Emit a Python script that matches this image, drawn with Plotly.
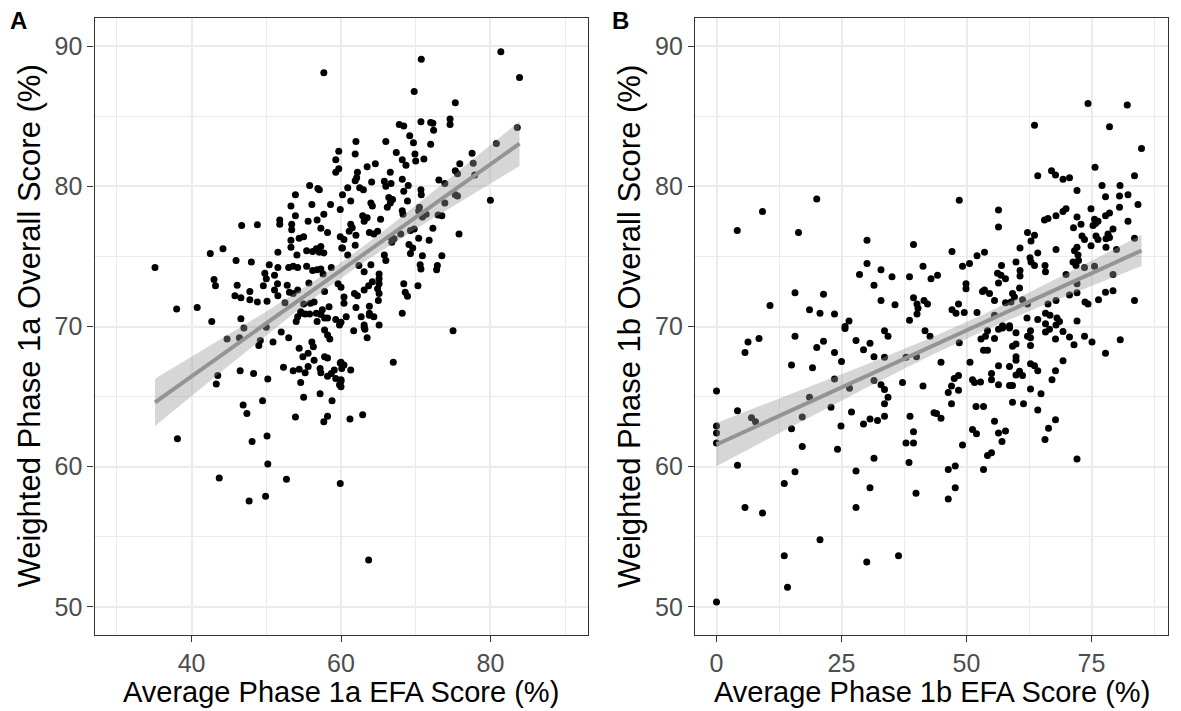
import numpy as np
import plotly.graph_objects as go

# ---------------- Panel A data (Phase 1a) ----------------
a_points = [
    (57.7,88.1),(59.7,82.5),(59.3,81.9),(59.7,81.25),(59.3,81.0),(55.8,80.05),(56.9,79.85),(57.1,79.75),
    (53.9,79.4),(59.9,78.35),(53.3,78.6),(56.1,78.7),(58.6,78.7),(57.7,78.0),(53.9,77.9),(51.8,77.6),
    (51.8,77.3),(53.4,77.3),(53.4,76.9),(55.6,77.5),(56.8,77.6),(57.3,77.0),(58.2,76.7),(46.7,77.2),
    (48.8,77.25),(55.0,76.4),(54.4,76.3),(53.3,76.15),(59.9,76.4),(60.1,75.6),(53.3,75.65),(54.1,75.1),
    (55.4,75.4),(56.2,75.35),(56.7,75.55),(57.3,75.7),(57.7,75.25),(57.1,75.3),(51.55,75.3),(44.2,75.55),
    (42.5,75.2),(35.1,74.2),(45.95,74.7),(48.0,74.6),(50.4,74.4),(51.55,74.2),(53.0,74.2),(53.6,74.3),
    (54.2,74.2),(55.4,74.3),(56.2,74.0),(56.8,74.05),(57.6,73.75),(58.7,74.2),(57.3,74.1),(49.8,73.8),
    (50.0,73.4),(51.1,73.65),(43.0,73.35),(43.2,72.9),(46.1,72.95),(49.6,72.9),(51.5,73.05),(52.8,72.95),
    (53.1,72.45),(54.2,72.6),(53.6,72.35),(51.1,72.6),(51.55,72.2),(55.7,73.1),(57.8,72.5),(59.6,73.05),
    (60.0,72.8),(47.8,72.5),(45.8,72.2),(46.6,72.05),(47.8,71.9),(48.8,71.75),(50.1,71.8),(52.5,71.7),
    (55.0,71.6),(55.9,71.65),(56.4,71.75),(38.0,71.25),(40.75,71.35),(55.2,70.9),(54.6,71.05),(55.8,70.9),
    (56.7,70.95),(57.5,71.2),(58.4,71.4),(57.3,70.85),(58.2,70.6),(42.7,70.35),(46.6,70.55),(54.0,70.35),
    (54.2,70.7),(54.7,70.95),(56.8,70.35),(57.8,70.6),(59.3,70.5),(60.0,70.3),
    (47.0,69.9),(44.75,69.1),(46.4,69.2),(50.0,69.95),(52.0,69.6),(53.0,69.2),(49.2,69.0),(49.0,68.65),
    (50.9,68.9),(57.8,69.75),(58.2,69.4),(58.5,69.1),(59.8,70.1),(54.4,68.45),(54.9,67.85),(55.6,68.1),
    (56.1,68.9),(56.3,68.55),(56.4,67.6),(57.8,67.85),(58.2,67.75),(52.3,67.1),(53.6,66.85),(54.4,66.95),
    (55.2,66.7),(55.6,67.15),(57.2,67.0),(57.3,66.7),(58.2,66.45),(58.7,66.65),(59.1,66.9),(59.9,67.4),
    (60.1,67.0),(59.8,65.85),(60.0,66.2),(59.3,66.3),(43.5,66.5),(43.3,65.9),(46.5,66.85),(48.3,66.65),
    (50.2,66.25),(54.6,66.0),(55.0,64.95),(57.2,65.2),(58.8,64.7),(49.5,64.7),(46.9,64.4),(47.4,63.8),
    (53.9,63.55),(58.2,63.6),(57.7,63.2),(38.1,62.0),(48.1,61.8),(50.1,62.2),(50.2,60.2),(43.7,59.2),
    (52.7,59.1),(59.9,58.8),(47.7,57.55),(49.9,57.9),
    (81.4,89.6),(70.75,89.05),(83.9,87.75),(69.8,86.75),(75.3,85.95),(70.7,84.6),(72.0,84.55),(72.3,84.5),
    (72.4,84.0),(67.8,84.4),(68.4,84.3),(74.6,84.8),(74.6,84.4),(83.6,84.2),(69.2,83.6),(69.7,83.1),
    (72.0,83.0),(66.0,83.2),(62.0,83.2),(61.9,82.3),(67.4,82.4),(68.2,81.9),(68.7,81.5),(69.9,82.3),
    (70.0,81.8),(71.1,81.95),(80.8,83.05),(77.55,82.35),(75.9,81.6),(77.7,81.65),(77.9,80.8),(75.3,81.1),
    (75.6,80.9),(64.6,81.6),(63.5,81.4),(66.6,81.0),(62.2,81.0),(62.1,80.6),(61.9,80.4),(65.8,80.35),
    (66.7,80.2),(66.0,80.0),(64.1,80.3),(68.2,80.5),(69.0,80.05),(68.4,79.65),(73.1,80.45),(73.9,80.2),
    (70.7,79.75),(70.75,79.4),(62.5,79.9),(63.0,79.75),(60.9,79.9),(61.3,78.95),(60.2,79.4),(64.0,78.8),
    (64.2,78.6),(66.4,79.2),(66.6,78.8),(66.2,78.5),(66.9,79.05),(68.2,78.25),(68.3,78.0),(68.9,78.95),
    (70.5,78.5),(70.4,78.25),(71.4,78.0),(70.9,77.8),(73.9,78.8),(73.0,77.95),(73.5,77.9),(75.3,79.4),
    (75.6,79.3),(80.0,79.0),(65.3,77.65),(62.9,77.9),(63.1,77.5),(63.5,77.75),(61.3,77.3),(61.5,77.05),
    (61.1,76.8),(72.3,77.0),(69.8,76.95),(69.3,76.85),(68.0,76.6),(64.9,76.8),(64.4,76.6),(63.8,76.7),
    (66.7,76.35),(67.1,76.25),(66.8,76.0),(75.8,76.6),(70.4,76.3),(71.8,76.15),(62.0,76.5),(61.9,75.8),
    (60.4,76.2),(60.2,75.6),(69.1,75.85),(69.6,75.6),(69.3,75.2),(70.9,75.05),(73.5,75.05),(65.8,75.1),
    (66.0,74.7),(60.9,75.1),(64.0,74.4),(62.4,74.35),(63.1,73.9),(70.6,74.4),(70.7,74.1),(72.9,74.35),
    (72.8,74.05),(65.1,73.75),(65.1,73.4),(65.1,73.05),(64.9,72.7),(64.2,73.2),(63.7,72.9),(63.1,72.6),
    (61.8,72.35),(62.2,72.2),(68.4,73.05),(68.6,72.45),(68.9,72.15),(70.3,72.9),(60.4,72.1),(60.4,71.65),
    (65.1,72.35),(65.0,71.85),(62.0,71.35),(63.8,71.45),(63.8,70.95),(64.4,70.7),(63.8,70.8),(68.2,70.95),
    (62.7,70.7),(60.7,70.7),(63.1,70.1),(65.1,70.1),
    (61.7,69.7),(63.1,69.95),(63.2,69.8),(63.5,69.2),(75.0,69.7),(60.0,67.45),(60.4,67.25),(61.3,66.9),
    (67.0,67.45),(60.0,66.1),(60.0,65.7),(61.2,63.4),(62.9,63.7),(63.7,53.35),
]
a_efa = [p[0] for p in a_points]
a_overall = [p[1] for p in a_points]

# ---------------- Panel B data (Phase 1b) ----------------
b_points = [
    (20.05,79.1),(9.2,78.2),(4.15,76.85),(16.4,76.7),(30.1,76.15),(39.4,75.85),(30.1,74.5),(28.6,73.7),
    (32.9,74.05),(35.1,73.55),(38.6,73.55),(31.5,72.95),(15.7,72.4),(21.4,72.3),(32.9,71.85),(35.7,71.55),
    (39.4,72.05),(40.1,71.6),(40.3,71.3),(40.1,70.9),(10.7,71.5),(18.6,71.2),(20.7,70.95),(23.6,70.9),
    (26.5,70.4),(38.6,70.45),(25.7,70.0),
    (74.3,85.9),(82.15,85.8),(63.6,84.35),(78.6,84.25),(85.0,82.7),(75.7,81.35),(64.25,80.75),(67.0,81.1),
    (67.8,80.8),(69.3,80.5),(70.6,80.6),(72.1,79.7),(77.1,80.05),(80.7,80.05),(82.3,79.4),(80.6,79.3),
    (77.8,79.25),(83.6,80.75),(84.3,78.7),(48.55,79.0),(56.4,78.3),(56.4,77.1),(74.9,78.4),(75.6,77.65),
    (76.3,77.5),(75.3,77.2),(75.8,77.35),(69.9,78.4),(69.3,78.2),(67.9,77.9),(66.3,77.7),(65.6,77.6),
    (72.1,77.8),(71.4,77.05),(72.9,77.3),(80.6,78.5),(82.3,77.5),(77.8,77.9),(78.6,78.1),(79.3,76.95),
    (78.3,76.6),(77.9,76.25),(77.9,75.65),(78.6,76.35),(73.1,76.45),(73.6,76.2),(75.9,76.45),(76.3,76.2),
    (74.9,75.75),(80.0,75.5),(83.6,76.3),(72.1,75.65),(71.6,75.4),(72.3,75.1),(71.3,74.6),(72.4,74.7),
    (71.9,74.35),(62.2,76.7),(63.6,76.5),(62.9,76.1),(60.7,75.6),(64.25,75.25),(67.9,75.5),(62.7,74.9),
    (62.9,74.6),(63.6,74.35),(59.9,74.6),(60.7,74.0),(60.7,73.6),(57.0,74.35),(56.2,73.8),(56.9,73.65),
    (57.8,73.4),(56.4,73.1),(65.7,74.35),(65.8,73.9),(69.9,73.7),(73.6,74.2),(75.6,74.3),(79.3,73.7),
    (72.1,73.05),(60.6,72.75),(59.2,72.35),(59.6,72.1),(53.6,75.3),(52.1,75.05),(50.6,74.5),(49.2,74.3),
    (47.1,75.35),(49.9,73.05),(49.9,72.7),(53.2,72.5),(53.6,72.6),(54.6,72.35),(55.6,71.85),(57.8,71.7),
    (58.9,71.75),(61.2,71.9),(62.2,71.6),(41.3,74.3),(42.9,73.4),(44.2,73.65),(41.5,71.85),(42.2,71.6),
    (48.4,71.6),(47.1,71.2),(47.9,70.95),(49.55,71.0),(52.1,71.0),(55.6,70.8),(66.3,71.6),(67.9,71.85),
    (70.6,72.25),(72.1,72.4),(73.7,71.75),(74.3,71.6),(76.4,71.9),(77.8,72.45),(79.3,72.55),(83.6,71.85),
    (62.1,70.6),(64.25,70.5),(65.8,70.95),(66.7,70.8),(68.1,70.6),(68.6,70.35),(72.1,70.4),(57.2,70.05),
    (58.6,70.05),
    (0.0,65.4),(0.0,62.9),(0.0,62.4),(0.0,61.7),(0.0,50.35),(4.2,64.0),(4.2,60.1),(5.7,57.1),(9.2,56.7),
    (5.7,68.15),(6.3,68.9),(8.5,69.15),(7.0,63.5),(7.8,63.2),(15.0,67.25),(15.7,69.3),(15.0,62.7),
    (17.15,63.55),(17.15,61.45),(15.7,59.65),(13.55,58.8),(13.55,53.65),(14.2,51.4),(19.2,67.05),
    (20.05,68.5),(21.4,68.95),(18.6,64.95),(20.7,54.8),(22.9,64.25),(23.6,68.15),(23.6,66.25),(25.0,67.5),
    (25.7,69.85),(24.9,62.9),(24.2,61.25),(26.6,65.6),(27.0,63.9),(27.9,69.0),(27.9,59.7),(27.9,57.1),
    (29.4,68.35),(30.7,68.8),(31.5,67.85),(31.5,66.15),(29.4,63.05),(30.7,63.4),(32.2,63.3),(31.5,60.6),
    (30.7,58.5),(30.05,53.2),(33.6,69.7),(34.3,69.3),(33.6,67.8),(32.9,65.85),(33.6,65.5),(34.3,64.95),
    (33.6,64.5),(33.6,63.6),(37.2,66.0),(37.9,67.8),(36.4,53.65),(38.7,63.6),(39.4,62.5),(37.9,61.7),
    (39.4,61.7),(38.5,60.3),(39.9,58.1),(40.0,67.85),(41.7,69.7),
    (42.7,69.3),(44.9,67.45),(41.3,65.75),(46.35,57.7),(47.75,58.5),(46.35,59.8),(47.75,60.05),(49.2,61.55),
    (53.4,59.8),(54.2,60.8),(55.0,61.0),(51.2,62.65),(52.0,62.35),(55.6,63.25),(56.4,62.4),(57.8,62.55),
    (57.1,61.8),(43.5,63.85),(44.0,63.8),(44.9,63.45),(47.0,64.5),(51.9,64.3),(53.4,64.3),(46.35,65.3),
    (47.0,65.75),(48.4,65.45),(47.55,66.3),(48.4,66.5),(50.7,67.45),(51.2,66.2),(51.6,66.0),(52.8,66.05),
    (55.0,66.65),(55.0,66.2),(56.4,65.85),(56.4,67.2),(58.6,67.15),(58.6,65.8),(59.2,65.8),(59.2,64.6),
    (61.4,64.5),(59.9,67.85),(59.9,67.6),(60.6,66.8),(59.9,66.55),(61.2,66.5),(62.8,67.35),(63.6,67.2),
    (64.25,66.85),(62.8,65.55),(64.9,65.2),(64.25,64.05),(67.8,63.35),(66.4,62.75),(65.7,61.95),(72.1,60.55),
    (67.1,66.2),(67.8,66.85),(69.3,67.55),(67.8,69.1),(70.6,69.25),(71.5,68.7),(69.3,69.65),(73.6,69.3),
    (75.1,68.9),(77.8,68.1),(80.75,69.05),(52.9,69.1),(53.8,69.3),(55.6,69.15),(54.2,69.7),(53.4,68.3),
    (54.2,68.3),(56.4,69.8),(57.2,69.9),(58.6,69.9),(59.2,68.6),(59.9,68.75),(62.8,69.7),(62.2,69.3),
    (62.8,69.2),(62.8,68.65),(65.8,70.2),(65.8,69.6),(66.6,69.8),(67.9,70.1),(59.9,69.55),(48.55,68.85),
]
b_efa = [p[0] for p in b_points]
b_overall = [p[1] for p in b_points]

a_xticks = [40, 60, 80]
a_xminor = [30, 50, 70, 90]
b_xticks = [0, 25, 50, 75]
b_xminor = [12.5, 37.5, 62.5, 87.5]
y_ticks = [50, 60, 70, 80, 90]
y_minor = [55, 65, 75, 85]

T975 = 1.968


def lm_band(x, y, n_grid=100):
    x = np.asarray(x, float)
    y = np.asarray(y, float)
    n = len(x)
    slope, intercept = np.polyfit(x, y, 1)
    resid = y - (intercept + slope * x)
    s = np.sqrt(np.sum(resid ** 2) / (n - 2))
    xbar = x.mean()
    sxx = np.sum((x - xbar) ** 2)
    gx = np.linspace(x.min(), x.max(), n_grid)
    gy = intercept + slope * gx
    se = s * np.sqrt(1.0 / n + (gx - xbar) ** 2 / sxx)
    return gx, gy, gy - T975 * se, gy + T975 * se


fig = go.Figure()

panels = [
    (a_efa, a_overall, "x", "y"),
    (b_efa, b_overall, "x2", "y2"),
]
for xs, ys, xa, ya in panels:
    fig.add_trace(go.Scatter(x=xs, y=ys, mode="markers", xaxis=xa, yaxis=ya,
                             marker=dict(color="black", size=7, line=dict(width=0)),
                             showlegend=False, hoverinfo="skip"))
    gx, gy, lo, hi = lm_band(xs, ys)
    fig.add_trace(go.Scatter(x=np.concatenate([gx, gx[::-1]]), y=np.concatenate([hi, lo[::-1]]),
                             mode="lines", fill="toself", fillcolor="rgba(153,153,153,0.4)",
                             line=dict(width=0), xaxis=xa, yaxis=ya, showlegend=False,
                             hoverinfo="skip"))
    fig.add_trace(go.Scatter(x=gx, y=gy, mode="lines", line=dict(color="#949494", width=4),
                             xaxis=xa, yaxis=ya, showlegend=False, hoverinfo="skip"))

font_family = "Liberation Sans, Arial, Helvetica, sans-serif"
tick_font = dict(family=font_family, size=25, color="#4D4D4D")


def axis_common():
    return dict(showline=True, mirror=True, linecolor="#333333", linewidth=1.2,
                ticks="outside", ticklen=6, tickwidth=1.2, tickcolor="#333333",
                showgrid=True, gridcolor="#EBEBEB", gridwidth=1.5, zeroline=False,
                tickfont=tick_font, tickmode="array")


W, H = 1181, 711
a_left, a_right = 94.5 / W, 587.5 / W
b_left, b_right = 695 / W, 1168 / W
y_bot, y_top = (H - 635) / H, (H - 18) / H

fig.update_layout(
    width=W, height=H, margin=dict(l=0, r=0, t=0, b=0),
    paper_bgcolor="white", plot_bgcolor="white",
    xaxis=dict(domain=[a_left, a_right], range=[27, 93], tickvals=a_xticks, anchor="y",
               minor=dict(tickmode="array", tickvals=a_xminor, showgrid=True,
                          gridcolor="#EBEBEB", gridwidth=1), **axis_common()),
    yaxis=dict(domain=[y_bot, y_top], range=[48, 92], tickvals=y_ticks, anchor="x",
               minor=dict(tickmode="array", tickvals=y_minor, showgrid=True,
                          gridcolor="#EBEBEB", gridwidth=1), **axis_common()),
    xaxis2=dict(domain=[b_left, b_right], range=[-4.3, 90.3], tickvals=b_xticks, anchor="y2",
                minor=dict(tickmode="array", tickvals=b_xminor, showgrid=True,
                           gridcolor="#EBEBEB", gridwidth=1), **axis_common()),
    yaxis2=dict(domain=[y_bot, y_top], range=[48, 92], tickvals=y_ticks, anchor="x2",
                minor=dict(tickmode="array", tickvals=y_minor, showgrid=True,
                           gridcolor="#EBEBEB", gridwidth=1), **axis_common()),
)

title_font = dict(family=font_family, size=29, color="black")
ytitle_font = dict(family=font_family, size=31, color="black")
ann = [
    dict(text="Average Phase 1a EFA Score (%)", x=(a_left + a_right) / 2, y=(H - 692) / H,
         font=title_font),
    dict(text="Average Phase 1b EFA Score (%)", x=(b_left + b_right) / 2, y=(H - 692) / H,
         font=title_font),
    dict(text="Weighted Phase 1a Overall Score (%)", x=29 / W, y=(y_bot + y_top) / 2,
         textangle=-90, font=ytitle_font),
    dict(text="Weighted Phase 1b Overall Score (%)", x=629.5 / W, y=(y_bot + y_top) / 2,
         textangle=-90, font=ytitle_font),
    dict(text="<b>A</b>", x=19 / W, y=(H - 21) / H,
         font=dict(family=font_family, size=24, color="black")),
    dict(text="<b>B</b>", x=621 / W, y=(H - 21) / H,
         font=dict(family=font_family, size=24, color="black")),
]
for a in ann:
    a.update(xref="paper", yref="paper", showarrow=False, xanchor="center", yanchor="middle")
fig.update_layout(annotations=ann)

fig.write_html("out.html")
